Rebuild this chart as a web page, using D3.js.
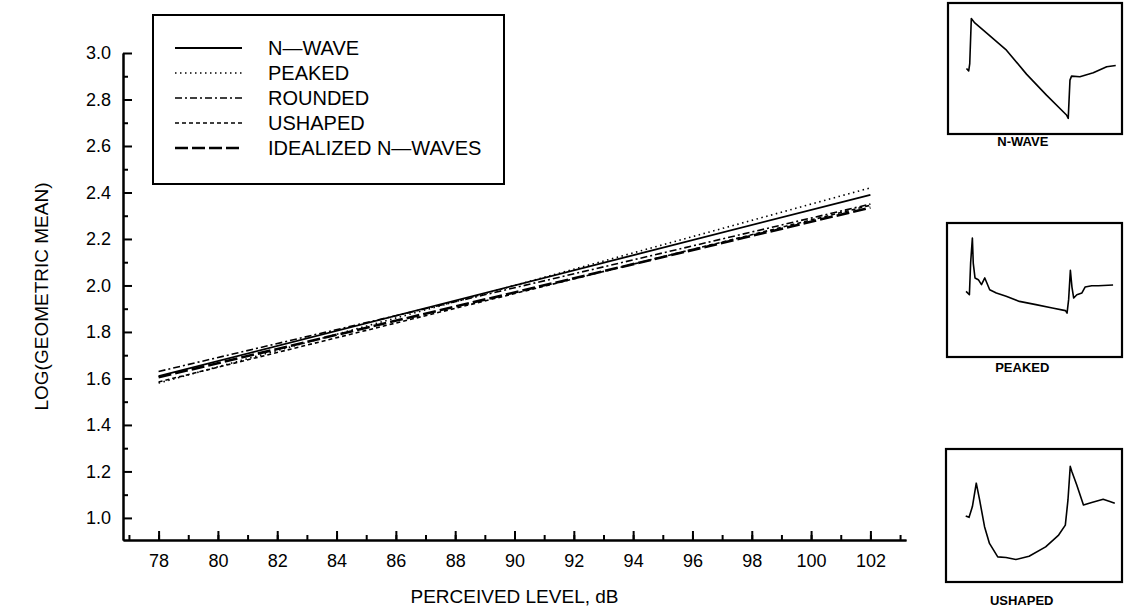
<!DOCTYPE html>
<html>
<head>
    <script src="https://d3js.org/d3.v7.min.js"></script>
    <style>
        body {
            margin: 0;
            background: #fff;
            font-family: 'Liberation Sans', Arial, sans-serif;
        }

        .axis path,
        .axis line {
            stroke: #000;
            stroke-width: 2px;
        }

        .axis text {
            font-family: 'Liberation Sans', Arial, sans-serif;
            font-size: 18px;
            fill: #000;
        }

        .series {
            fill: none;
            stroke: #000;
        }
    </style>
</head>

<body>
    <script>
        // regression lines at both ends of the range
        const levels = [78, 102];
        const seriesNames = ['N-WAVE', 'PEAKED', 'ROUNDED', 'USHAPED', 'IDEALIZED N-WAVES'];
        const nwave = [1.61, 2.39];
        const peaked = [1.58, 2.42];
        const rounded = [1.63, 2.35];
        const ushaped = [1.585, 2.345];
        const idealized = [1.605, 2.335];

        const xMajorTicks = [78, 80, 82, 84, 86, 88, 90, 92, 94, 96, 98, 100, 102];
        const yMajorTicks = [1.0, 1.2, 1.4, 1.6, 1.8, 2.0, 2.2, 2.4, 2.6, 2.8, 3.0];

        // sketches of the pressure signatures (time %, amplitude %)
        const nwaveShape = [[10.6, 50], [11.9, 48.2], [12.5, 53.8], [13.4, 88.1], [15.4, 84.8], [22.1, 77.2],
            [33.6, 64], [45.1, 45.7], [56.6, 29.7], [68.1, 14.5], [69.1, 11.9], [70.1, 41.1], [71, 44.2],
            [75.8, 43.7], [83.5, 46.7], [91.2, 51.3], [96.4, 52.3]];
        const peakedShape = [[10.9, 49], [12.8, 46.5], [13.5, 70.1], [14.5, 88.8], [15, 70.1], [16, 59],
            [17.9, 57.7], [19.7, 54], [21.6, 59], [24.4, 50.2], [28.2, 47.8], [33.8, 45.3], [41.4, 41.5],
            [50.8, 39.1], [60.2, 36.6], [67.7, 34.6], [68.6, 32.8], [69.5, 42.8], [70.5, 64.7], [71.4, 52.2],
            [72.4, 44], [74.2, 46.5], [77.1, 47.8], [78.9, 52.2], [82.7, 53.2], [86.5, 53.2], [94.9, 53.7]];
        const ushapedShape = [[11.2, 49.6], [13.1, 48.6], [15, 56.7], [17.2, 74.3], [19.1, 61.7], [21.9, 41.6],
            [24.7, 29], [29.4, 18.9], [34.1, 18.4], [39.7, 16.9], [47.2, 19.4], [56.6, 26.4], [64, 35.3],
            [67.8, 42.8], [69.3, 61.7], [70.6, 86.9], [71.5, 83.1], [74.3, 73], [78.1, 57.9], [82.8, 59.7],
            [89.3, 62.2], [93.1, 60.5], [95.9, 59.2]];

        const width = 1124,
            height = 615;

        const svg = d3.select('body').append('svg')
            .attr('width', width)
            .attr('height', height);

        // the frame runs a little below 1.0, as in the original plot
        const x = d3.scaleLinear().domain([76.8, 103.2]).range([123, 906]);
        const y = d3.scaleLinear().domain([0.905, 3]).range([540, 53]);

        const styles = [
            {data: nwave, width: 1.8, dash: null},
            {data: peaked, width: 1.6, dash: '1.5,3.5'},
            {data: rounded, width: 1.6, dash: '7,3,2,3'},
            {data: ushaped, width: 1.6, dash: '4,3'},
            {data: idealized, width: 2.6, dash: '13,4'}
        ];

        // axes: minor ticks first, then major ticks with labels
        const xMinor = d3.range(77, 104, 1);
        const yMinor = d3.range(1.1, 3.0, 0.2);

        svg.append('g').attr('class', 'axis')
            .attr('transform', `translate(0,${y.range()[0]})`)
            .call(d3.axisBottom(x).tickValues(xMinor).tickSize(-5).tickSizeOuter(0).tickFormat(''));

        svg.append('g').attr('class', 'axis')
            .attr('transform', `translate(0,${y.range()[0]})`)
            .call(d3.axisBottom(x).tickValues(xMajorTicks).tickSize(-9).tickSizeOuter(0).tickPadding(14)
                .tickFormat(d3.format('d')));

        svg.append('g').attr('class', 'axis')
            .attr('transform', `translate(${x.range()[0]},0)`)
            .call(d3.axisLeft(y).tickValues(yMinor).tickSize(-5).tickSizeOuter(0).tickFormat(''));

        svg.append('g').attr('class', 'axis')
            .attr('transform', `translate(${x.range()[0]},0)`)
            .call(d3.axisLeft(y).tickValues(yMajorTicks).tickSize(-9).tickSizeOuter(0).tickPadding(12)
                .tickFormat(d3.format('.1f')));

        svg.append('text')
            .attr('x', (x.range()[0] + x.range()[1]) / 2)
            .attr('y', 603)
            .attr('text-anchor', 'middle')
            .style('font-size', '19px')
            .text('PERCEIVED LEVEL, dB');

        svg.append('text')
            .attr('transform', `translate(48,${(y.range()[0] + y.range()[1]) / 2}) rotate(-90)`)
            .attr('text-anchor', 'middle')
            .style('font-size', '19px')
            .text('LOG(GEOMETRIC MEAN)');

        const line = d3.line()
            .x((d, i) => x(levels[i]))
            .y(d => y(d));

        svg.selectAll('path.series')
            .data(styles)
            .join('path')
            .attr('class', 'series')
            .attr('d', d => line(d.data))
            .attr('stroke-width', d => d.width)
            .attr('stroke-dasharray', d => d.dash);

        // legend
        const legend = svg.append('g');
        legend.append('rect')
            .attr('x', 153).attr('y', 15)
            .attr('width', 351).attr('height', 169)
            .attr('fill', '#fff')
            .attr('stroke', '#000')
            .attr('stroke-width', 2);

        const rows = legend.selectAll('g.row')
            .data(styles)
            .join('g')
            .attr('class', 'row')
            .attr('transform', (d, i) => `translate(0,${48 + i * 25})`);

        rows.append('line')
            .attr('x1', 175).attr('x2', 242)
            .attr('stroke', '#000')
            .attr('stroke-width', d => d.width)
            .attr('stroke-dasharray', d => d.dash);

        rows.append('text')
            .attr('x', 268)
            .attr('y', 7)
            .style('font-size', '20px')
            .text((d, i) => seriesNames[i].replace('-', '\u2014'));

        // inset waveforms
        const insets = [
            {shape: nwaveShape, label: 'N-WAVE', box: [948, 3, 174, 131], ly: 146},
            {shape: peakedShape, label: 'PEAKED', box: [947, 223, 175, 134], ly: 372},
            {shape: ushapedShape, label: 'USHAPED', box: [946, 449, 176, 133], ly: 605}
        ];

        insets.forEach(ins => {
            const [bx, by, bw, bh] = ins.box;
            const sx = d3.scaleLinear().domain([0, 100]).range([bx, bx + bw]);
            const sy = d3.scaleLinear().domain([0, 100]).range([by + bh, by]);
            const g = svg.append('g');
            g.append('rect')
                .attr('x', bx).attr('y', by)
                .attr('width', bw).attr('height', bh)
                .attr('fill', 'none')
                .attr('stroke', '#000')
                .attr('stroke-width', 2.2);
            g.append('path')
                .attr('d', d3.line().x(d => sx(d[0])).y(d => sy(d[1]))(ins.shape))
                .attr('fill', 'none')
                .attr('stroke', '#000')
                .attr('stroke-width', 1.6)
                .attr('stroke-linejoin', 'round');
            g.append('text')
                .attr('x', bx + bw * 0.43)
                .attr('y', ins.ly)
                .attr('text-anchor', 'middle')
                .style('font-size', '13px')
                .style('font-weight', 'bold')
                .text(ins.label);
        });
    </script>
</body>

</html>
